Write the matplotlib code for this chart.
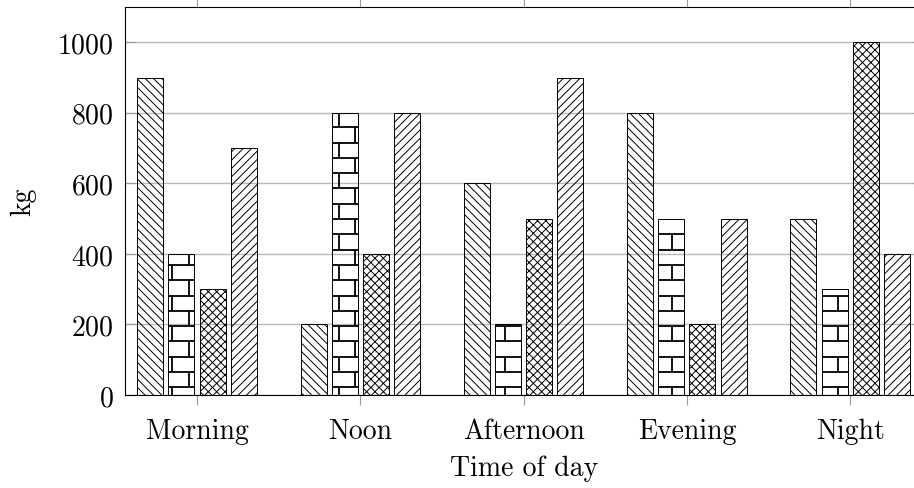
import matplotlib
matplotlib.use("Agg")
import matplotlib.pyplot as plt
import numpy as np

categories = ["Morning", "Noon", "Afternoon", "Evening", "Night"]
series_nw = [900, 200, 600, 800, 500]      # north west lines
series_bricks = [400, 800, 200, 500, 300]  # bricks
series_cross = [300, 400, 500, 200, 1000]  # crosshatch
series_ne = [700, 800, 900, 500, 400]      # north east lines
yticks = [0, 200, 400, 600, 800, 1000]

plt.rcParams['font.family'] = ['cmr10', 'DejaVu Serif']
plt.rcParams['axes.formatter.use_mathtext'] = True
plt.rcParams['hatch.linewidth'] = 0.7
plt.rcParams['font.size'] = 20

W_PX, H_PX = 914, 489
fig = plt.figure(figsize=(W_PX / 100, H_PX / 100), dpi=100)
ax_l, ax_r, ax_t, ax_b = 125, 923, 8, 396
ax = fig.add_axes([ax_l / W_PX, 1 - ax_b / H_PX, (ax_r - ax_l) / W_PX, (ax_b - ax_t) / H_PX])

x = np.arange(len(categories))
xlim = (-0.441, 4.446)
ylim = (0, 1100)
ax.set_xlim(*xlim)
ax.set_ylim(*ylim)

xpp = (xlim[1] - xlim[0]) / (ax_r - ax_l)   # data units per pixel
ypp = (ylim[1] - ylim[0]) / (ax_b - ax_t)

step = 0.191
width = 0.159
offsets = np.array([-1.5, -0.5, 0.5, 1.5]) * step

ax.grid(axis='y', color='#b8b8b8', linewidth=1.0, zorder=0)
ax.set_axisbelow(True)

ax.bar(x + offsets[0], series_nw, width, facecolor='none', edgecolor='black',
       hatch='\\\\\\\\', linewidth=0.7, zorder=2)
bricks = ax.bar(x + offsets[1], series_bricks, width, facecolor='none', edgecolor='black',
                linewidth=0.7, zorder=2)
ax.bar(x + offsets[2], series_cross, width, facecolor='none', edgecolor='black',
       hatch='xxxx', linewidth=0.7, zorder=2)
ax.bar(x + offsets[3], series_ne, width, facecolor='none', edgecolor='black',
       hatch='////', linewidth=0.7, zorder=2)

# brick pattern drawn inside each brick bar (pattern tiled globally)
row_h = 15.3
row0 = 7.7
brick_l = 33.3
brick_x0 = 47.3
for rect in bricks.patches:
    bx0 = rect.get_x()
    bx1 = bx0 + rect.get_width()
    h = rect.get_height()
    h_px = h / ypp
    px0 = (bx0 - xlim[0]) / xpp
    px1 = (bx1 - xlim[0]) / xpp
    r = 0
    lo = 0.0
    while lo < h_px - 0.5:
        hi = min(row0 + row_h * r, h_px)
        if hi < h_px - 0.5:
            ax.plot([bx0, bx1], [hi * ypp, hi * ypp], color='black', lw=1.3,
                    solid_capstyle='butt', zorder=3)
        start = brick_x0 + (brick_l / 2 if r % 2 else 0)
        k0 = int(np.floor((px0 - start) / brick_l)) - 1
        for k in range(k0, k0 + 6):
            vx = start + k * brick_l
            if px0 + 1 < vx < px1 - 1:
                ax.plot([xlim[0] + vx * xpp] * 2, [lo * ypp, hi * ypp], color='black',
                        lw=1.3, solid_capstyle='butt', zorder=3)
        lo = hi
        r += 1

ax.set_xticks(x)
ax.set_xticklabels(categories)
ax.set_yticks(yticks)
ax.tick_params(axis='x', which='both', direction='out', top=True, bottom=True,
               length=7.2, width=0.8, color='#999999', pad=9)
ax.tick_params(axis='y', which='both', direction='in', left=True, right=True,
               length=7.2, width=0.8, color='#999999', pad=8)
for s in ax.spines.values():
    s.set_color('black')
    s.set_linewidth(0.8)

ax.set_xlabel("Time of day", labelpad=8)
ax.set_ylabel("kg", labelpad=15)

fig.savefig("out.png", dpi=100)
